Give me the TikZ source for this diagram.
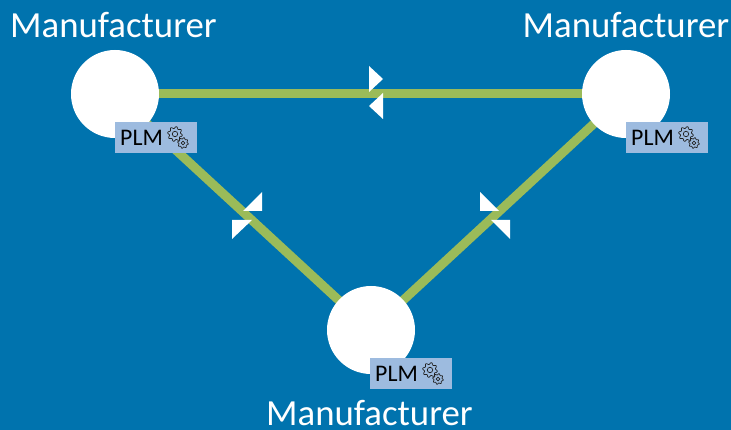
\documentclass[tikz,border=0pt]{standalone}
\usepackage{fontspec}
\setmainfont{Carlito}
\usetikzlibrary{backgrounds}
\definecolor{bgblue}{HTML}{0073AE}
\definecolor{lnk}{HTML}{9BBB59}
\definecolor{plmfill}{HTML}{9DBBDF}
\definecolor{gearcol}{HTML}{222222}
\tikzset{
  site/.style={circle,fill=white,minimum size=88pt,inner sep=0pt,outer sep=0pt},
  lbl/.style={text=white,font=\fontsize{36.8}{38}\selectfont,inner sep=0pt,anchor=base},
  plm/.style={fill=plmfill,minimum width=82pt,minimum height=31pt,inner sep=0pt,outer sep=0pt},
  plmtext/.style={text=black,font=\fontsize{23.8}{25}\selectfont,inner sep=0pt,anchor=base west},
  link/.style={draw=lnk,line width=9pt},
  flag/.style={fill=white,draw=none},
  pics/gear/.style={code={
    \draw[gearcol,line width=0.7pt,line join=round]
      plot[smooth cycle,samples=49,domain=0:352.5,variable=\t,tension=0.15]
        ({(#1)*(1+0.16*sin(8*\t))*cos(\t)},{(#1)*(1+0.16*sin(8*\t))*sin(\t)});
    \draw[gearcol,line width=0.7pt] (0,0) circle[radius=0.42*(#1)];
  }},
  pics/plmicon/.style={code={
    \pic at (-6,-3.5) {gear=6.5};
    \pic at (2,5.5) {gear=4.7};
  }}
}
\begin{document}
\begin{tikzpicture}[x=1pt,y=-1pt]
\useasboundingbox (0,0) rectangle (731,430);
\begin{scope}[on background layer]
  \fill[bgblue] (0,0) rectangle (731,430);
\end{scope}
\node[site] (ml) at (115,94) {};
\node[site] (mr) at (626,94) {};
\node[site] (mb) at (371,330) {};
\begin{scope}[on background layer]
  \draw[link] (ml.center) -- (mr.center);
  \draw[link] (ml.center) -- (mb.center);
  \draw[link] (mr.center) -- (mb.center);
\end{scope}
% direction flags
\fill[flag] (369,66) -- (383,79) -- (369,92) -- cycle;
\fill[flag] (383,93) -- (383,119) -- (369,106) -- cycle;
\fill[flag] (262,192) -- (262,211) -- (243,211) -- cycle;
\fill[flag] (232,220) -- (252,220) -- (232,239) -- cycle;
\fill[flag] (480,192) -- (499,211) -- (480,211) -- cycle;
\fill[flag] (491,220) -- (510,220) -- (510,239) -- cycle;
% labels
\node[lbl] (tl) at (113.5,38) {Manufacturer};
\node[lbl] (tr) at (626,38) {Manufacturer};
\node[lbl] (tb) at (369.5,425) {Manufacturer};
% PLM boxes
\node[plm] (pl) at (156,137.5) {};
\node[plm] (pr) at (667,137.5) {};
\node[plm] (pb) at (411,373.5) {};
\node[plmtext] (pltxt) at (120,145.5) {PLM};
\node[plmtext] (prtxt) at (631,145.5) {PLM};
\node[plmtext] (pbtxt) at (375,381.5) {PLM};
\pic at (181,137.5) {plmicon};
\pic at (692,137.5) {plmicon};
\pic at (436,373.5) {plmicon};
\end{tikzpicture}
\end{document}
